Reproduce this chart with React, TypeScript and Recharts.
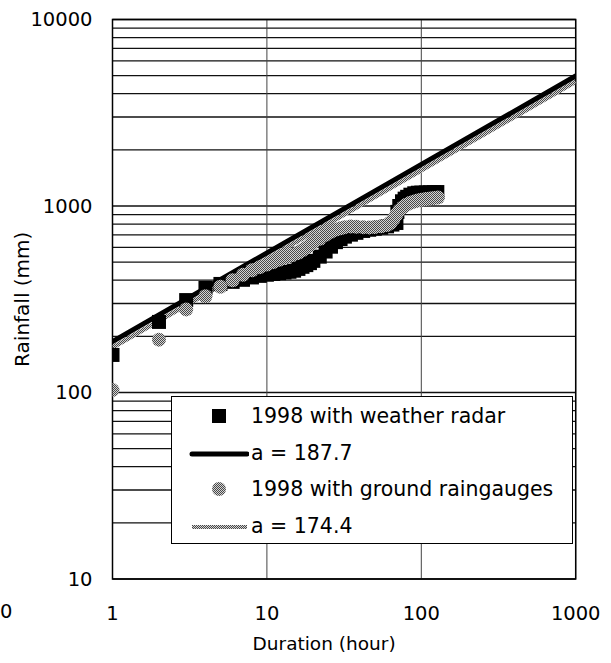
import {
  CartesianGrid,
  ComposedChart,
  Label,
  Legend,
  Line,
  ReferenceArea,
  Scatter,
  XAxis,
  YAxis,
} from "recharts";

// rainfall vs duration
const radarHours = [
  1, 2, 3, 4, 5, 6, 7, 8, 9, 10, 11, 12, 13, 14, 15, 16, 17, 18, 19, 20, 22, 24, 26, 28, 30, 32,
  35, 38, 42, 46, 50, 55, 60, 65, 69, 70, 72, 75, 78, 81, 85, 90, 95, 100, 107, 114, 121, 127,
];
const radarRain = [
  159, 239, 313, 364, 382, 392, 402, 414, 422, 428, 432, 436, 440, 444, 450, 460, 472, 482, 494,
  508, 535, 570, 605, 640, 665, 685, 702, 718, 735, 746, 755, 765, 778, 795, 811, 930, 1000, 1060,
  1095, 1120, 1150, 1170, 1178, 1180, 1182, 1184, 1186, 1188,
];
const gaugeHours = [
  1, 2, 3, 4, 5, 6, 7, 8, 9, 10, 11, 12, 13, 14, 15, 16, 17, 18, 19, 20, 22, 24, 26, 28, 30, 32,
  35, 38, 42, 46, 50, 55, 60, 63, 66, 69, 72, 76, 80, 85, 90, 95, 100, 107, 114, 121, 128,
];
const gaugeRain = [
  103, 192, 279, 328, 369, 400, 428, 452, 470, 485, 500, 515, 528, 540, 552, 563, 580, 598, 618,
  638, 668, 700, 728, 748, 760, 770, 776, 774, 770, 768, 772, 778, 790, 810, 850, 900, 945, 985,
  1015, 1040, 1058, 1070, 1080, 1090, 1098, 1105, 1110,
];

// fitted lines (a = value at 1 hour), end points read at 1000 h
const fitHours = [1, 1000];
const radarFitRain = [187.7, 4980];
const gaugeFitRain = [174.4, 4640];

const xTicks = [1, 10, 100, 1000];
const yTicks = [
  10, 20, 30, 40, 50, 60, 70, 80, 90, 100, 200, 300, 400, 500, 600, 700, 800, 900, 1000, 2000,
  3000, 4000, 5000, 6000, 7000, 8000, 9000, 10000,
];
const yLabels = [10, 100, 1000, 10000];
const legendNames = [
  "1998 with weather radar",
  "a = 187.7",
  "1998 with ground raingauges",
  "a = 174.4",
];

const radar = radarHours.map((d, i) => ({ d, v: radarRain[i] }));
const gauge = gaugeHours.map((d, i) => ({ d, v: gaugeRain[i] }));
const radarFit = fitHours.map((d, i) => ({ d, v: radarFitRain[i] }));
const gaugeFit = fitHours.map((d, i) => ({ d, v: gaugeFitRain[i] }));

const FONT = "'DejaVu Sans', sans-serif";

const Square = (p: any) => <rect x={p.cx - 7} y={p.cy - 7} width={14} height={14} fill="#000" />;
const Dot = (p: any) => <circle cx={p.cx} cy={p.cy} r={7} fill="url(#dither)" />;

function LegendBox() {
  const rows = [19, 56, 92, 129];
  return (
    <div
      style={{
        position: "relative",
        boxSizing: "border-box",
        width: 402,
        height: 148,
        border: "1.5px solid #000",
        background: "#fff",
        fontFamily: FONT,
      }}
    >
      {legendNames.map((name, i) => (
        <div key={name} style={{ position: "absolute", left: 0, top: rows[i] - 12, height: 24, width: "100%" }}>
          <svg width={60} height={24} style={{ position: "absolute", left: 17, top: 0 }}>
            <defs>
              <pattern id={"ld" + i} width="2" height="2" patternUnits="userSpaceOnUse">
                <rect width="2" height="2" fill="#d4d4d4" />
                <rect width="1" height="1" fill="#484848" />
                <rect x="1" y="1" width="1" height="1" fill="#484848" />
              </pattern>
            </defs>
            {i === 0 && <rect x={23} y={5} width={14} height={14} fill="#000" />}
            {i === 1 && <line x1={3} x2={58} y1={13} y2={13} stroke="#000" strokeWidth={5} strokeLinecap="round" />}
            {i === 2 && <circle cx={30} cy={12} r={7} fill={"url(#ld" + i + ")"} />}
            {i === 3 && <line x1={3} x2={58} y1={13} y2={13} stroke={"url(#ld" + i + ")"} strokeWidth={4} />}
          </svg>
          <span style={{ position: "absolute", left: 79, top: 0, lineHeight: "24px", fontSize: 20.5, whiteSpace: "nowrap" }}>
            {name}
          </span>
        </div>
      ))}
    </div>
  );
}

export default function App() {
  return (
    <div style={{ position: "absolute", left: 0, top: 0, width: 611, height: 663, fontFamily: FONT, background: "#fff" }}>
      <ComposedChart width={611} height={663} margin={{ top: 19.5, right: 35.3, bottom: 0, left: 0 }}>
        <defs>
          <pattern id="dither" width="2" height="2" patternUnits="userSpaceOnUse">
            <rect width="2" height="2" fill="#d4d4d4" />
            <rect width="1" height="1" fill="#484848" />
            <rect x="1" y="1" width="1" height="1" fill="#484848" />
          </pattern>
        </defs>
        <CartesianGrid vertical={false} stroke="#111" strokeWidth={1.3} />
        <CartesianGrid horizontal={false} stroke="#444" strokeWidth={1} />
        <XAxis
          dataKey="d"
          type="number"
          scale="log"
          domain={[1, 1000]}
          ticks={xTicks}
          interval={0}
          allowDataOverflow
          height={84}
          axisLine={false}
          tickLine={false}
          tickSize={0}
          tickMargin={27}
          tick={{ fontSize: 19.5, fill: "#000" }}
        >
          <Label value="Duration (hour)" position="insideBottom" offset={13} dx={-20} style={{ fontSize: 18.5, fill: "#000" }} />
        </XAxis>
        <YAxis
          type="number"
          scale="log"
          domain={[10, 10000]}
          ticks={yTicks}
          interval={0}
          allowDataOverflow
          width={112.5}
          axisLine={false}
          tickLine={false}
          tickSize={0}
          tickMargin={20}
          tick={{ fontSize: 19.5, fill: "#000" }}
          tickFormatter={(v: number) => (yLabels.includes(v) ? String(v) : "")}
        >
          <Label value="Rainfall (mm)" angle={-90} position="insideLeft" offset={22} style={{ fontSize: 20, fill: "#000", textAnchor: "middle" }} />
        </YAxis>
        <ReferenceArea x1={1} x2={1000} y1={10} y2={10000} fill="none" stroke="#000" strokeWidth={1.5} ifOverflow="visible" />
        <Scatter name={legendNames[0]} data={radar} dataKey="v" shape={Square} isAnimationActive={false} />
        <Scatter name={legendNames[2]} data={gauge} dataKey="v" shape={Dot} isAnimationActive={false} />
        <Line name={legendNames[3]} data={gaugeFit} dataKey="v" stroke="url(#dither)" strokeWidth={4.5} dot={false} isAnimationActive={false} />
        <Line name={legendNames[1]} data={radarFit} dataKey="v" stroke="#000" strokeWidth={5} strokeLinecap="round" dot={false} isAnimationActive={false} />
        <Legend
          layout="horizontal"
          verticalAlign="middle"
          align="center"
          wrapperStyle={{ left: 171, top: 396, width: 402, height: 148 }}
          content={() => <LegendBox />}
        />
      </ComposedChart>
      <div style={{ position: "absolute", left: 0, top: 600, fontSize: 19.5, lineHeight: "24px" }}>0</div>
    </div>
  );
}
